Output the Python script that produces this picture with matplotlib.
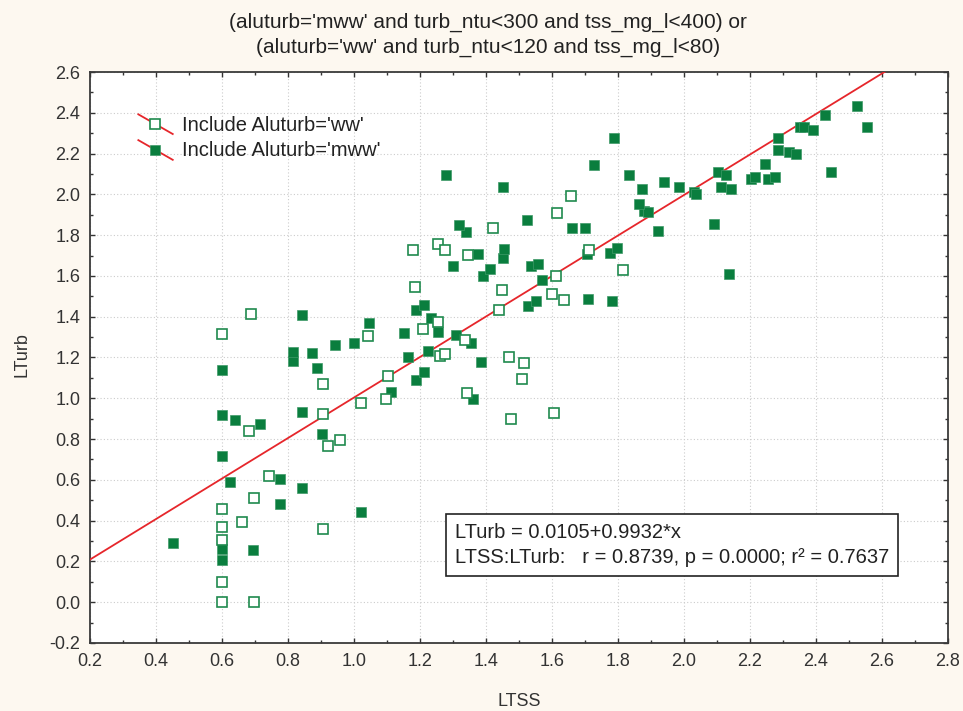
import matplotlib
matplotlib.use("Agg")
import matplotlib.pyplot as plt
import numpy as np
from matplotlib.ticker import MultipleLocator

plt.rcParams['font.family'] = ['Liberation Sans', 'DejaVu Sans']

# group aluturb='ww' (open squares)
ww_x = [0.601, 0.697, 0.601, 0.601, 0.601, 0.601, 0.661, 0.697, 0.743, 0.906,
        0.920, 0.957, 0.683, 0.906, 0.906, 1.022, 0.601, 0.687, 1.043, 1.098,
        1.104, 1.185, 1.210, 1.255, 1.261, 1.277, 1.337, 1.342, 1.439, 1.449,
        1.470, 1.475, 1.510, 1.515, 1.601, 1.606, 1.612, 1.637, 1.814, 1.180,
        1.255, 1.277, 1.346, 1.422, 1.616, 1.657, 1.712]
ww_y = [0.000, 0.000, 0.097, 0.304, 0.369, 0.459, 0.394, 0.510, 0.618, 0.361,
        0.765, 0.797, 0.838, 0.922, 1.069, 0.979, 1.317, 1.415, 1.307, 0.995,
        1.111, 1.547, 1.342, 1.374, 1.209, 1.216, 1.284, 1.028, 1.431, 1.529,
        1.201, 0.896, 1.093, 1.175, 1.513, 0.930, 1.598, 1.480, 1.627, 1.727,
        1.755, 1.727, 1.701, 1.833, 1.909, 1.992, 1.727]

# group aluturb='mww' (filled squares)
mww_x = [0.450, 0.599, 0.599, 0.695, 1.020, 0.776, 0.842, 0.776, 0.624, 0.599,
         0.904, 0.715, 0.639, 0.599, 0.842, 1.111, 1.362, 0.599, 0.888, 0.816,
         0.816, 0.873, 0.943, 1.000, 1.046, 0.842, 1.188, 1.213, 1.163, 1.223,
         1.386, 1.356, 1.310, 1.254, 1.152, 1.233, 1.188, 1.213, 1.528, 1.553,
         1.710, 1.783, 1.569, 1.391, 1.411, 1.299, 1.537, 1.558, 1.450, 1.456,
         1.375, 1.705, 1.776, 1.798, 1.339, 1.319, 1.523, 1.661, 1.701, 1.920,
         1.880, 1.892, 1.864, 1.452, 1.280, 1.726, 1.787, 1.834, 1.873, 1.939,
         1.984, 2.031, 2.036, 2.092, 2.137, 2.112, 2.142, 2.102, 2.127, 2.203,
         2.215, 2.254, 2.275, 2.244, 2.285, 2.285, 2.319, 2.340, 2.352, 2.364,
         2.392, 2.427, 2.447, 2.523, 2.555]
mww_y = [0.290, 0.209, 0.263, 0.258, 0.440, 0.480, 0.562, 0.605, 0.587, 0.719,
         0.827, 0.876, 0.892, 0.917, 0.933, 1.033, 0.998, 1.141, 1.149, 1.181,
         1.229, 1.220, 1.263, 1.271, 1.371, 1.410, 1.092, 1.131, 1.204, 1.230,
         1.180, 1.270, 1.312, 1.325, 1.320, 1.396, 1.435, 1.459, 1.451, 1.475,
         1.485, 1.475, 1.578, 1.601, 1.634, 1.650, 1.650, 1.657, 1.690, 1.730,
         1.706, 1.706, 1.714, 1.739, 1.814, 1.848, 1.873, 1.837, 1.837, 1.822,
         1.920, 1.912, 1.954, 2.036, 2.093, 2.142, 2.275, 2.093, 2.028, 2.060,
         2.036, 2.012, 2.000, 1.856, 1.608, 2.036, 2.028, 2.110, 2.093, 2.077,
         2.085, 2.077, 2.085, 2.150, 2.219, 2.275, 2.209, 2.199, 2.332, 2.332,
         2.317, 2.390, 2.110, 2.431, 2.332]

intercept = 0.0105
slope = 0.9932
title_lines = ["(aluturb='mww' and turb_ntu<300 and tss_mg_l<400) or",
               "(aluturb='ww' and turb_ntu<120 and tss_mg_l<80)"]
legend_labels = ["Include Aluturb='ww'", "Include Aluturb='mww'"]
stats_text = ["LTurb = 0.0105+0.9932*x",
              "LTSS:LTurb:   r = 0.8739, p = 0.0000; r\u00b2 = 0.7637"]

green = '#0a7e3e'
red = '#e6262b'
bg = '#fdf8f0'

fig = plt.figure(figsize=(9.63, 7.11), dpi=100, facecolor=bg)
ax = fig.add_axes([0.0935, 0.0957, 0.8909, 0.8030])
ax.set_facecolor('white')

ax.set_xlim(0.2, 2.8)
ax.set_ylim(-0.2, 2.6)
ax.xaxis.set_major_locator(MultipleLocator(0.2))
ax.xaxis.set_minor_locator(MultipleLocator(0.1))
ax.yaxis.set_major_locator(MultipleLocator(0.2))
ax.yaxis.set_minor_locator(MultipleLocator(0.1))
ax.xaxis.set_major_formatter(lambda v, p: f"{v:.1f}")
ax.yaxis.set_major_formatter(lambda v, p: f"{v:.1f}")
ax.tick_params(which='both', direction='in', top=True, right=True,
               labelsize=13, colors='#333333', width=1)
ax.tick_params(which='major', length=3.5, pad=7)
ax.tick_params(which='minor', length=2)
ax.grid(True, which='major', color='#cccccc', linestyle=(0, (1, 2)), linewidth=0.8)
ax.set_axisbelow(True)
for s in ax.spines.values():
    s.set_color('#3a3a3a')
    s.set_linewidth(1.3)

# regression line
lx = np.array(ax.get_xlim())
ax.plot(lx, intercept + slope * lx, color=red, linewidth=1.3, zorder=3)

filled_style = dict(marker='s', markersize=7.6, markerfacecolor=green,
                    markeredgecolor='#3f9a68', markeredgewidth=0.5, linestyle='none')
open_style = dict(marker='s', markersize=7.2, markerfacecolor='white',
                  markeredgecolor='#1f8a4e', markeredgewidth=1.2, linestyle='none')

ax.plot(mww_x, mww_y, zorder=4, **filled_style)
ax.plot(ww_x, ww_y, zorder=5, **open_style)

# legend (Statistica style: marker crossed by the fit line)
for i, lab in enumerate(legend_labels):
    dy = i * 0.0452
    ax.plot([0.0563, 0.0964], [0.9259 - dy, 0.8914 - dy], color=red,
            linewidth=1.3, transform=ax.transAxes, clip_on=False, zorder=6)
    style = open_style if i == 0 else filled_style
    ax.plot([0.0761], [0.9087 - dy], transform=ax.transAxes, zorder=7, **style)
    ax.text(0.1069, 0.9072 - dy, lab, transform=ax.transAxes, fontsize=14.5,
            color='#222222', va='center', ha='left', zorder=7)

ax.text(0.4254, 0.1716, "\n".join(stats_text), transform=ax.transAxes,
        fontsize=14.5, color='#222222', va='center', ha='left', linespacing=1.45,
        bbox=dict(boxstyle='square,pad=0.45', facecolor='white',
                  edgecolor='#222222', linewidth=1.2), zorder=8)

fig.text(488 / 963, 1 - 22 / 711, title_lines[0], ha='center', va='center',
         fontsize=15, color='#222222')
fig.text(488 / 963, 1 - 47 / 711, title_lines[1], ha='center', va='center',
         fontsize=15, color='#222222')
fig.text(519 / 963, 1 - 701 / 711, "LTSS", ha='center', va='center',
         fontsize=13, color='#333333')
fig.text(22 / 963, 1 - 355 / 711, "LTurb", ha='center', va='center',
         rotation=90, fontsize=13, color='#333333')

fig.savefig('out.png', dpi=100, facecolor=bg)
